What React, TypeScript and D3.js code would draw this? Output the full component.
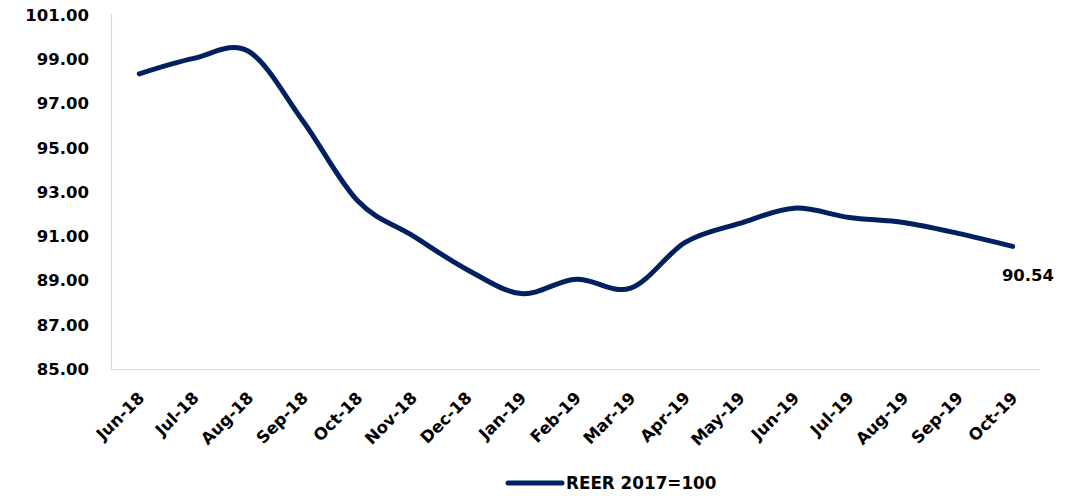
import React from "react";
import * as d3 from "d3";

const categories = ["Jun-18","Jul-18","Aug-18","Sep-18","Oct-18","Nov-18","Dec-18","Jan-19","Feb-19","Mar-19","Apr-19","May-19","Jun-19","Jul-19","Aug-19","Sep-19","Oct-19"];
const reer = [98.34, 99.04, 99.36, 96.2, 92.6, 91.04, 89.5, 88.41, 89.06, 88.65, 90.72, 91.58, 92.27, 91.85, 91.62, 91.13, 90.54];
const yTicks = [85, 87, 89, 91, 93, 95, 97, 99, 101];
const seriesName = "REER 2017=100";

const W = 1079, H = 496;
const M = { left: 112, right: 1040, top: 15, bottom: 369 };
const FONT = "'DejaVu Sans', sans-serif";

export default function App() {
  const x = d3.scaleBand<string>().domain(categories).range([M.left, M.right]);
  const cx = (c: string) => (x(c) ?? 0) + x.bandwidth() / 2;
  const y = d3.scaleLinear().domain([85, 101]).range([M.bottom, M.top]);
  const line = d3.line<number>()
    .x((_, i) => cx(categories[i]))
    .y((d) => y(d))
    .curve(d3.curveCatmullRom.alpha(0));
  const last = reer[reer.length - 1];
  return (
    <svg width={W} height={H} style={{ position: "absolute", left: 0, top: 0 }}>
      <line x1={M.left - 0.5} x2={M.left - 0.5} y1={M.top - 1} y2={M.bottom} stroke="#d9d9d9" strokeWidth={1.2} />
      <line x1={M.left - 1} x2={M.right} y1={M.bottom + 0.5} y2={M.bottom + 0.5} stroke="#d9d9d9" strokeWidth={1.2} />
      {yTicks.map((t) => (
        <text key={t} x={89} y={y(t)} dy="0.36em" textAnchor="end" fontFamily={FONT} fontWeight={700} fontSize={16.5} fill="#000">
          {t.toFixed(2)}
        </text>
      ))}
      {categories.map((c) => (
        <text key={c} transform={`translate(${cx(c) + 6},${M.bottom + 30}) rotate(-45)`} textAnchor="end" fontFamily={FONT} fontWeight={700} fontSize={16.5} fill="#000">
          {c}
        </text>
      ))}
      <path d={line(reer) ?? ""} fill="none" stroke="#002060" strokeWidth={5} strokeLinecap="round" strokeLinejoin="round" />
      <text x={1028} y={281} textAnchor="middle" fontFamily={FONT} fontWeight={700} fontSize={16.5} fill="#000">
        {last.toFixed(2)}
      </text>
      <line x1={508} x2={562} y1={483} y2={483} stroke="#002060" strokeWidth={5} strokeLinecap="round" />
      <text x={566} y={483} dy="0.36em" fontFamily={FONT} fontWeight={700} fontSize={16.8} fill="#000">
        {seriesName}
      </text>
    </svg>
  );
}
